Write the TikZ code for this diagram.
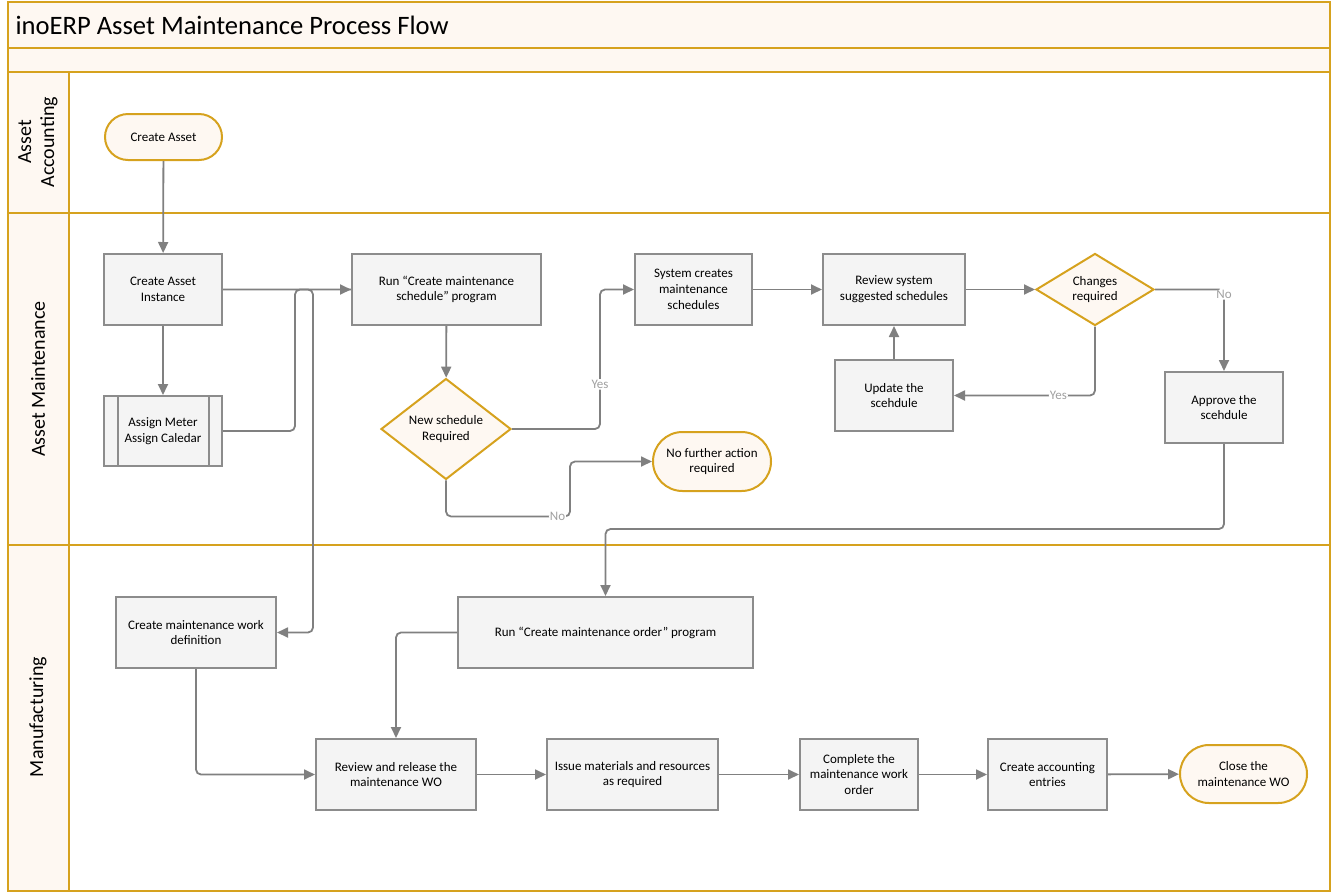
\documentclass[tikz,border=0pt]{standalone}
\usepackage{fontspec}
\setmainfont{Carlito}
\usetikzlibrary{arrows.meta,shapes.geometric,shapes.misc,positioning}
\definecolor{lanegold}{HTML}{D6A21E}
\definecolor{laneback}{HTML}{FEF8F2}
\definecolor{boxgrey}{HTML}{8C8C8C}
\definecolor{boxfill}{HTML}{F4F4F4}
\definecolor{linegrey}{HTML}{808080}
\definecolor{labelgrey}{HTML}{A0A0A0}
\tikzset{task/.style={rectangle, draw=boxgrey, fill=boxfill, line width=2pt,
    align=center, inner sep=0pt, font=\fontsize{13}{15.8}\selectfont},
  terminal/.style={rounded rectangle, draw=lanegold, fill=laneback, line width=2pt,
    align=center, inner sep=0pt, font=\fontsize{13}{15.8}\selectfont},
  decision/.style={diamond, draw=lanegold, fill=laneback, line width=2pt,
    align=center, inner sep=0pt, font=\fontsize{13}{15.8}\selectfont},
  flow/.style={draw=linegrey, line width=1.8pt, rounded corners=5pt,
    -{Triangle[length=11pt,width=10pt]}},
  branch/.style={draw=linegrey, line width=1.8pt, rounded corners=5pt},
  lbl/.style={fill=white, text=labelgrey, inner sep=1pt,
    font=\fontsize{13}{15}\selectfont},
  lanelbl/.style={rotate=90, align=center, font=\fontsize{20}{23}\selectfont}}

\begin{document}
\begin{tikzpicture}[x=1pt, y=-1pt]
    \useasboundingbox (0,0) rectangle (1334,895);
    % swimlanes
    \fill[laneback] (8,2) rectangle (1330,72);
    \fill[laneback] (8,72) rectangle (69,891);
    \draw[lanegold, line width=2pt] (8,2) rectangle (1330,891);
    \draw[lanegold, line width=2pt] (8,48) -- (1330,48)
                                    (8,72) -- (1330,72)
                                    (8,213) -- (1330,213)
                                    (8,545) -- (1330,545)
                                    (69,72) -- (69,891);
    \node[anchor=west, font=\fontsize{26.6}{30}\selectfont] (title) at (12,25) {inoERP Asset Maintenance Process Flow};
    \node[lanelbl] (acclane) at (38,142) {Asset\\Accounting};
    \node[lanelbl] (mntlane) at (38,379) {Asset Maintenance};
    \node[lanelbl] (mfglane) at (38,717) {Manufacturing};

    % steps
    \node[terminal, minimum width=117pt, minimum height=46pt] (asset) at (163.5,137) {Create Asset};
    \node[task, minimum width=118pt, minimum height=71pt] (instance) at (163,289.5) {Create Asset\\Instance};
    \node[task, minimum width=118pt, minimum height=70pt] (meter) at (163,431) {Assign Meter\\Assign Caledar};
    \draw[boxgrey, line width=2pt] ([xshift=15pt]meter.north west) -- ([xshift=15pt]meter.south west)
                                   ([xshift=-14pt]meter.north east) -- ([xshift=-14pt]meter.south east);
    \node[task, minimum width=189pt, minimum height=71pt] (runsched) at (446.5,289.5) {Run “Create maintenance\\schedule” program};
    \node[decision, minimum width=130pt, minimum height=98pt] (newsched) at (446,429) {New schedule\\Required};
    \node[task, minimum width=117pt, minimum height=71pt] (syssched) at (693.5,289.5) {System creates\\maintenance\\schedules};
    \node[task, minimum width=142pt, minimum height=71pt] (review) at (894,289.5) {Review system\\suggested schedules};
    \node[decision, minimum width=118pt, minimum height=71pt] (changes) at (1095,289.5) {Changes\\required};
    \node[task, minimum width=118pt, minimum height=71pt] (update) at (894,395.5) {Update the\\scehdule};
    \node[task, minimum width=118pt, minimum height=71pt] (approve) at (1224,407.5) {Approve the\\scehdule};
    \node[terminal, minimum width=118pt, minimum height=59pt] (noaction) at (712,461.5) {No further action\\required};
    \node[task, minimum width=160pt, minimum height=71pt] (workdef) at (196,632.5) {Create maintenance work\\definition};
    \node[task, minimum width=295pt, minimum height=71pt] (runorder) at (605.5,632.5) {Run “Create maintenance order” program};
    \node[task, minimum width=160pt, minimum height=71pt] (release) at (396,774.5) {Review and release the\\maintenance WO};
    \node[task, minimum width=171pt, minimum height=71pt] (issue) at (632.5,774.5) {Issue materials and resources\\as required};
    \node[task, minimum width=118pt, minimum height=71pt] (complete) at (859,774.5) {Complete the\\maintenance work\\order};
    \node[task, minimum width=119pt, minimum height=71pt] (accounting) at (1047.5,774.5) {Create accounting\\entries};
    \node[terminal, minimum width=127pt, minimum height=58pt] (close) at (1243.5,774) {Close the\\maintenance WO};

    % connectors
    \draw[flow] (asset) -- (instance);
    \draw[flow] (instance) -- (meter);
    \draw[flow] (instance.east) -- (runsched.west);
    \draw[branch] (meter.east) -- ++(72,0) |- (runsched.west);
    \draw[flow] (instance.east) -- ++(90,0) |- (workdef.east);
    \draw[flow] (runsched) -- (newsched);
    \draw[flow] (newsched.east) -- ++(88,0) |- node[lbl, pos=0.16] {Yes} (syssched.west);
    \draw[flow] (newsched.south) |- node[lbl, pos=0.95] {No} ++(124,36) |- (noaction.west);
    \draw[flow] (syssched) -- (review);
    \draw[flow] (review) -- (changes);
    \draw[flow] (changes.east) -| node[lbl, pos=0.53] {No} (approve.north);
    \draw[flow] (changes.south) |- node[lbl, pos=0.63] {Yes} (update.east);
    \draw[flow] (update) -- (review);
    \draw[flow] (approve.south) -- ++(0,85) -| (runorder.north);
    \draw[flow] (runorder.west) -| (release.north);
    \draw[flow] (workdef.south) |- (release.west);
    \draw[flow] (release) -- (issue);
    \draw[flow] (issue) -- (complete);
    \draw[flow] (complete) -- (accounting);
    \draw[flow] (accounting) -- (close);
\end{tikzpicture}
\end{document}
